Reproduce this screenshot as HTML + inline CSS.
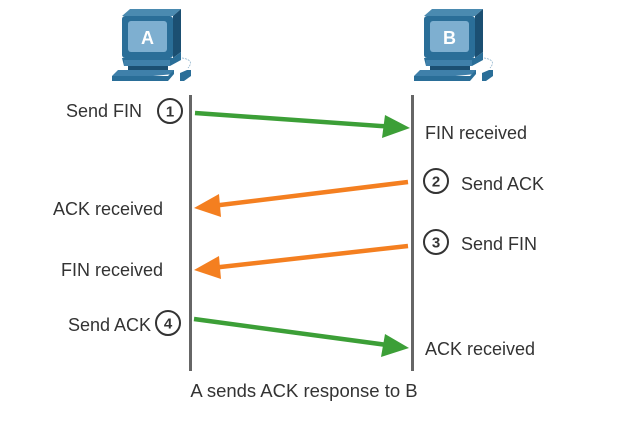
<!DOCTYPE html>
<html><head><style>
body{margin:0;background:#fff;}
text{font-family:"Liberation Sans",sans-serif;fill:#333;}
</style></head><body>
<svg width="624" height="424" viewBox="0 0 624 424" xmlns="http://www.w3.org/2000/svg">
<g>
  <polygon points="122,16 130,9 181,9 173,16" fill="#4a8ab0"/>
  <polygon points="173,16 181,9 181,52 173,58" fill="#1b4f72"/>
  <rect x="122" y="16" width="51" height="42" rx="3" fill="#2a6e98"/>
  <rect x="128" y="21" width="39" height="31" rx="3" fill="#7eafd0"/>
  <text x="147.5" y="44" font-size="18" font-weight="bold" text-anchor="middle" style="fill:#fff">A</text>
  <polygon points="122,58 173,58 181,52 181,60 170,66 124,66" fill="#2a6e98"/>
  <rect x="124" y="60" width="46" height="6" fill="#3f80aa"/>
  <rect x="128" y="66" width="40" height="4" fill="#1b4f72"/>
  <polygon points="118,70 174,70 174,74 112,80 112,76" fill="#3f80aa"/>
  <polygon points="112,76 168,76 174,70 174,74 168,81 112,81" fill="#2a6e98"/>
  <path d="M182,58 Q195,60 188,68" stroke="#8fb3cc" fill="none" stroke-width="0.8" stroke-dasharray="2,1"/>
  <polygon points="180,73 187,70 191,70 191,76 184,81 180,81" fill="#2a6e98"/>
</g>
<g transform="translate(302,0)">
  <polygon points="122,16 130,9 181,9 173,16" fill="#4a8ab0"/>
  <polygon points="173,16 181,9 181,52 173,58" fill="#1b4f72"/>
  <rect x="122" y="16" width="51" height="42" rx="3" fill="#2a6e98"/>
  <rect x="128" y="21" width="39" height="31" rx="3" fill="#7eafd0"/>
  <text x="147.5" y="44" font-size="18" font-weight="bold" text-anchor="middle" style="fill:#fff">B</text>
  <polygon points="122,58 173,58 181,52 181,60 170,66 124,66" fill="#2a6e98"/>
  <rect x="124" y="60" width="46" height="6" fill="#3f80aa"/>
  <rect x="128" y="66" width="40" height="4" fill="#1b4f72"/>
  <polygon points="118,70 174,70 174,74 112,80 112,76" fill="#3f80aa"/>
  <polygon points="112,76 168,76 174,70 174,74 168,81 112,81" fill="#2a6e98"/>
  <path d="M182,58 Q195,60 188,68" stroke="#8fb3cc" fill="none" stroke-width="0.8" stroke-dasharray="2,1"/>
  <polygon points="180,73 187,70 191,70 191,76 184,81 180,81" fill="#2a6e98"/>
</g>
<rect x="189" y="95" width="3" height="276" fill="#666"/>
<rect x="411" y="95" width="3" height="276" fill="#666"/>
<g stroke-width="4.5" fill="none">
  <line x1="195" y1="113" x2="388" y2="126.5" stroke="#3c9f37"/>
  <line x1="408" y1="182" x2="216" y2="205.5" stroke="#f47f20"/>
  <line x1="408" y1="246" x2="216" y2="267.5" stroke="#f47f20"/>
  <line x1="194" y1="319" x2="387" y2="345" stroke="#3c9f37"/>
</g>
<polygon points="410,128 385,115 382,138" fill="#3c9f37"/>
<polygon points="194,208 219,194 221,217" fill="#f47f20"/>
<polygon points="194,270 219,256 221,279" fill="#f47f20"/>
<polygon points="409,348 385,334 381,357" fill="#3c9f37"/>
<g fill="#fff" stroke="#333" stroke-width="2">
  <circle cx="170" cy="111" r="12"/>
  <circle cx="436" cy="181" r="12"/>
  <circle cx="436" cy="242" r="12"/>
  <circle cx="168" cy="323" r="12"/>
</g>
<g font-size="15" font-weight="bold" text-anchor="middle">
  <text x="170" y="116.5">1</text>
  <text x="436" y="186.5">2</text>
  <text x="436" y="247.5">3</text>
  <text x="168" y="328.5">4</text>
</g>
<g font-size="18">
  <text x="142" y="117" text-anchor="end">Send FIN</text>
  <text x="425" y="139">FIN received</text>
  <text x="461" y="190">Send ACK</text>
  <text x="163" y="215" text-anchor="end">ACK received</text>
  <text x="461" y="250">Send FIN</text>
  <text x="163" y="276" text-anchor="end">FIN received</text>
  <text x="151" y="331" text-anchor="end">Send ACK</text>
  <text x="425" y="355">ACK received</text>
  <text x="304" y="397" text-anchor="middle" font-size="18.5">A sends ACK response to B</text>
</g>
</svg>
</body></html>
